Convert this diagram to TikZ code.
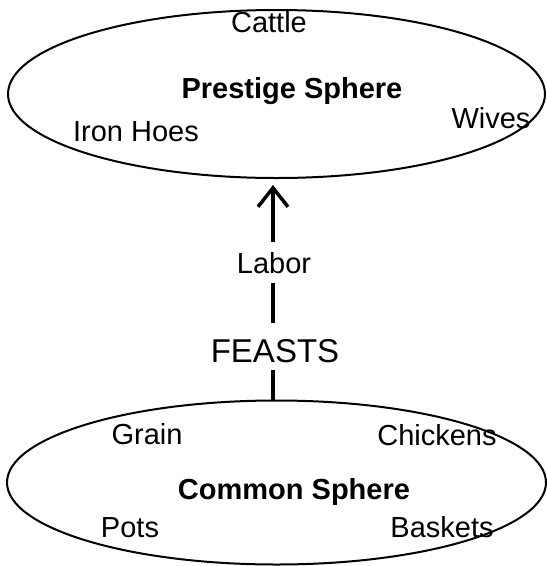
\documentclass[tikz,border=0pt]{standalone}
\usepackage{fontspec}
\setmainfont{Liberation Sans}
\usetikzlibrary{shapes.geometric,arrows.meta}
\tikzset{
  sphere/.style={draw, ellipse, line width=2pt, inner sep=0pt},
  lbl/.style={anchor=base, inner sep=0pt, font=\fontsize{29}{34}\selectfont},
  ttl/.style={anchor=base, inner sep=0pt, font=\fontsize{29}{34}\selectfont\bfseries},
  bar/.style={line width=4.5pt},
}
\begin{document}
\begin{tikzpicture}[x=1pt,y=-1pt]
\useasboundingbox (0,0) rectangle (547,566);
% spheres
\node[sphere, minimum width=537pt, minimum height=168pt] (prestige) at (276.5,94) {};
\node[sphere, minimum width=539pt, minimum height=164pt] (common) at (276.5,482.5) {};
% prestige labels
\node[lbl] (cattle) at (269,32) {Cattle};
\node[ttl] (ptitle) at (292,98) {Prestige Sphere};
\node[lbl] (hoes) at (136,141) {Iron Hoes};
\node[lbl] (wives) at (491,128) {Wives};
% common labels
\node[lbl] (grain) at (147,444) {Grain};
\node[lbl] (chickens) at (437,445) {Chickens};
\node[ttl] (ctitle) at (294,499) {Common Sphere};
\node[lbl] (pots) at (130,537) {Pots};
\node[lbl] (baskets) at (442,537) {Baskets};
% middle
\node[lbl] (labor) at (274,273) {Labor};
\node[anchor=base, inner sep=0pt, font=\fontsize{33}{38}\selectfont] (feasts) at (275,362) {FEASTS};
% connectors
\coordinate (tip) at (273,185);
\coordinate (shaftbot) at (273,242);
\coordinate (l1) at (273,283);
\coordinate (l2) at (273,323);
\coordinate (f1) at (273,370);
\coordinate (f2) at (273,400);
\draw[bar, -{Straight Barb[length=19pt,width=30pt,line width=3.5pt]}] (shaftbot) -- (tip);
\draw[bar] (l1) -- (l2);
\draw[line width=3.5pt] (f1) -- (f2);
\end{tikzpicture}
\end{document}
